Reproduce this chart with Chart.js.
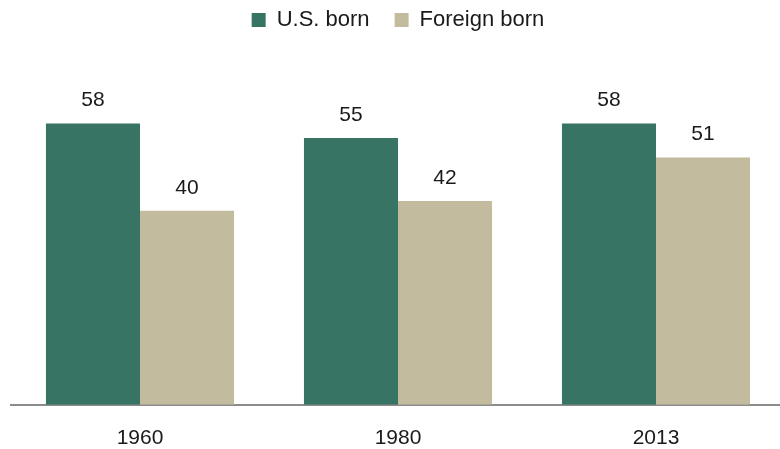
<!DOCTYPE html>
<html>
<head>
<meta charset="utf-8">
<script src="https://cdn.jsdelivr.net/npm/chart.js@4/dist/chart.umd.min.js"></script>
<style>
  html, body { margin: 0; padding: 0; background: #fff; overflow: hidden; }
  #wrap { position: relative; width: 786px; height: 449px; }
</style>
</head>
<body>
<div id="wrap"><canvas id="chart"></canvas></div>
<script>
const years = ['1960', '1980', '2013'];
const usBorn = [58, 55, 58];
const foreignBorn = [40, 42, 51];
const seriesNames = ['U.S. born', 'Foreign born'];

const FONT = "'Liberation Sans', Arial, sans-serif";

// value labels above each bar
const barLabels = {
  id: 'barLabels',
  afterDatasetsDraw(chart) {
    const ctx = chart.ctx;
    ctx.save();
    ctx.font = '21px ' + FONT;
    ctx.fillStyle = '#1a1a1a';
    ctx.textAlign = 'center';
    ctx.textBaseline = 'alphabetic';
    chart.data.datasets.forEach((ds, i) => {
      chart.getDatasetMeta(i).data.forEach((bar, j) => {
        ctx.fillText(ds.data[j], bar.x, bar.y - 17);
      });
    });
    ctx.restore();
  }
};

new Chart(document.getElementById('chart'), {
  type: 'bar',
  data: {
    labels: years,
    datasets: [
      { label: seriesNames[0], data: usBorn, backgroundColor: '#387463' },
      { label: seriesNames[1], data: foreignBorn, backgroundColor: '#c2bb9e' }
    ]
  },
  options: {
    responsive: true,
    maintainAspectRatio: false,
    animation: false,
    categoryPercentage: 0.729,
    barPercentage: 1.0,
    layout: { padding: { left: 11, right: 1, top: -16, bottom: -23 } },
    plugins: {
      legend: {
        position: 'top',
        labels: {
          boxWidth: 14,
          boxHeight: 14,
          padding: 25,
          color: '#1a1a1a',
          font: { family: FONT, size: 22 }
        }
      },
      tooltip: { enabled: false }
    },
    scales: {
      x: {
        grid: { display: false, drawTicks: false },
        border: { display: true, color: '#8c8c8c', width: 2 },
        ticks: { color: '#1a1a1a', padding: 21, font: { family: FONT, size: 21 } }
      },
      y: {
        display: false,
        min: 0,
        max: 75
      }
    }
  },
  plugins: [barLabels]
});
</script>
</body>
</html>
